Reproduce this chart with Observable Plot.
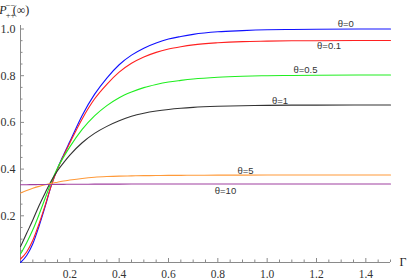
<!DOCTYPE html>
<html><head><meta charset="utf-8">
<script src="https://cdn.jsdelivr.net/npm/d3@7"></script>
<script src="https://cdn.jsdelivr.net/npm/@observablehq/plot@0.6"></script>
<style>html,body{margin:0;padding:0;background:#fff;}</style>
</head><body><div id="chart"></div>
<script>
// Γ sample positions
const gamma = [0, 0.025, 0.05, 0.075, 0.1, 0.125, 0.15, 0.175, 0.2, 0.25, 0.3, 0.35, 0.4, 0.45, 0.5, 0.55, 0.6, 0.65, 0.7, 0.8, 0.9, 1.0, 1.1, 1.2, 1.5];
// P(∞) per θ
const pTheta0   = [0.000, 0.030, 0.080, 0.155, 0.240, 0.330, 0.402, 0.462, 0.518, 0.630, 0.720, 0.790, 0.847, 0.888, 0.918, 0.940, 0.957, 0.968, 0.977, 0.988, 0.993, 0.9965, 0.998, 0.999, 1.000];
const pTheta01  = [0.015, 0.045, 0.095, 0.165, 0.245, 0.330, 0.400, 0.458, 0.512, 0.615, 0.700, 0.763, 0.815, 0.853, 0.880, 0.900, 0.914, 0.924, 0.932, 0.941, 0.946, 0.948, 0.9495, 0.950, 0.951];
const pTheta05  = [0.036, 0.085, 0.140, 0.205, 0.275, 0.345, 0.405, 0.452, 0.495, 0.570, 0.628, 0.672, 0.706, 0.730, 0.749, 0.7625, 0.773, 0.780, 0.786, 0.7935, 0.7977, 0.800, 0.801, 0.802, 0.803];
const pTheta1   = [0.068, 0.125, 0.182, 0.243, 0.298, 0.350, 0.393, 0.428, 0.460, 0.513, 0.553, 0.583, 0.607, 0.626, 0.639, 0.6485, 0.6555, 0.6606, 0.6644, 0.669, 0.6716, 0.673, 0.6738, 0.6742, 0.6745];
const pTheta5   = [0.297, 0.308, 0.318, 0.326, 0.333, 0.339, 0.344, 0.349, 0.353, 0.360, 0.365, 0.368, 0.370, 0.371, 0.372, 0.3725, 0.373, 0.3733, 0.3735, 0.374, 0.3743, 0.3745, 0.3746, 0.3747, 0.3747];
const pTheta10  = [0.333, 0.3332, 0.3335, 0.3338, 0.334, 0.3343, 0.3345, 0.3347, 0.335, 0.3352, 0.3355, 0.3357, 0.3358, 0.3359, 0.336, 0.336, 0.336, 0.336, 0.336, 0.336, 0.336, 0.336, 0.336, 0.336, 0.336];

const thetaNames = ["θ=0", "θ=0.1", "θ=0.5", "θ=1", "θ=5", "θ=10"];
const seriesColors = ["#1010ff", "#ff2020", "#20ee20", "#333333", "#ff9a3a", "#a040a0"];
// curve label anchor points (data coordinates)
const labelGamma = [1.319, 1.251, 1.155, 1.052, 0.912, 0.831];
const labelP     = [1.022, 0.926, 0.825, 0.691, 0.394, 0.308];

const xMajorTicks = [0.2, 0.4, 0.6, 0.8, 1.0, 1.2, 1.4];
const xMinorTicks = [0.05, 0.1, 0.15, 0.25, 0.3, 0.35, 0.45, 0.5, 0.55, 0.65, 0.7, 0.75, 0.85, 0.9, 0.95, 1.05, 1.1, 1.15, 1.25, 1.3, 1.35, 1.45, 1.5];
const yMajorTicks = [0.2, 0.4, 0.6, 0.8, 1.0];
const yMinorTicks = [0.05, 0.1, 0.15, 0.25, 0.3, 0.35, 0.45, 0.5, 0.55, 0.65, 0.7, 0.75, 0.85, 0.9, 0.95];

const series = [pTheta0, pTheta01, pTheta05, pTheta1, pTheta5, pTheta10];
const rows = series.flatMap((vals, i) => gamma.map((g, j) => ({gamma: g, p: vals[j], theta: thetaNames[i]})));
const labels = thetaNames.map((t, i) => ({gamma: labelGamma[i], p: labelP[i], text: t}));

const W = 415, H = 280;
const mL = 20, mR = 25, mT = 25, mB = 18;
const plotW = W - mL - mR, plotH = H - mT - mB;
const axisColor = "#8a8a8a";
const serif = "Liberation Serif, DejaVu Serif, serif";
const sans = "Liberation Sans, Arial, sans-serif";

const chart = Plot.plot({
  width: W, height: H,
  marginLeft: mL, marginRight: mR, marginTop: mT, marginBottom: mB,
  style: "font-family: 'Liberation Serif', serif; font-size: 11.5px; background: white; color: #333;",
  x: {domain: [0, 1.5]},
  y: {domain: [0, 1.015]},
  color: {domain: thetaNames, range: seriesColors},
  marks: [
    Plot.ruleY([0], {stroke: axisColor}),
    Plot.ruleX([0], {stroke: axisColor}),
    Plot.tickX(xMajorTicks, {x: d => d, insetTop: plotH - 4, stroke: axisColor}),
    Plot.tickX(xMinorTicks, {x: d => d, insetTop: plotH - 2.5, stroke: axisColor}),
    Plot.tickY(yMajorTicks, {y: d => d, insetRight: plotW - 4, stroke: axisColor}),
    Plot.tickY(yMinorTicks, {y: d => d, insetRight: plotW - 2.5, stroke: axisColor}),
    Plot.axisX({ticks: xMajorTicks, tickSize: 0, tickPadding: 7, tickFormat: d3.format(".1f"), label: null, fontSize: 11.5, fontFamily: serif, color: "#333"}),
    Plot.axisY({ticks: yMajorTicks, tickSize: 0, tickPadding: 5, tickFormat: d3.format(".1f"), label: null, fontSize: 12, fontFamily: serif, color: "#333"}),
    Plot.line(rows, {x: "gamma", y: "p", z: "theta", stroke: "theta", strokeWidth: 1.1, curve: "monotone-x"}),
    Plot.text(labels, {x: "gamma", y: "p", text: "text", textAnchor: "middle", lineAnchor: "middle", fontFamily: sans, fontSize: 9.5, fill: "#333"})
  ]
});

const svg = d3.select(chart);
// y-axis title P_{++}^{--}(∞) as one text element with tspans
const title = svg.append("text").attr("x", 3).attr("y", 14)
  .attr("font-family", serif).attr("font-size", 12).attr("fill", "#222");
title.append("tspan").attr("font-style", "italic").text("P");
title.append("tspan").attr("x", 10.5).attr("dy", -6).attr("font-size", 8.5).text("−−");
title.append("tspan").attr("x", 10.5).attr("dy", 10).attr("font-size", 8.5).text("++");
title.append("tspan").attr("x", 21).attr("dy", -4).text("(∞)");
// x-axis title Γ
svg.append("text").attr("x", 403).attr("y", 266).attr("font-family", serif)
  .attr("font-size", 12).attr("fill", "#222").text("Γ");

document.getElementById("chart").appendChild(chart);
</script>
</body></html>
